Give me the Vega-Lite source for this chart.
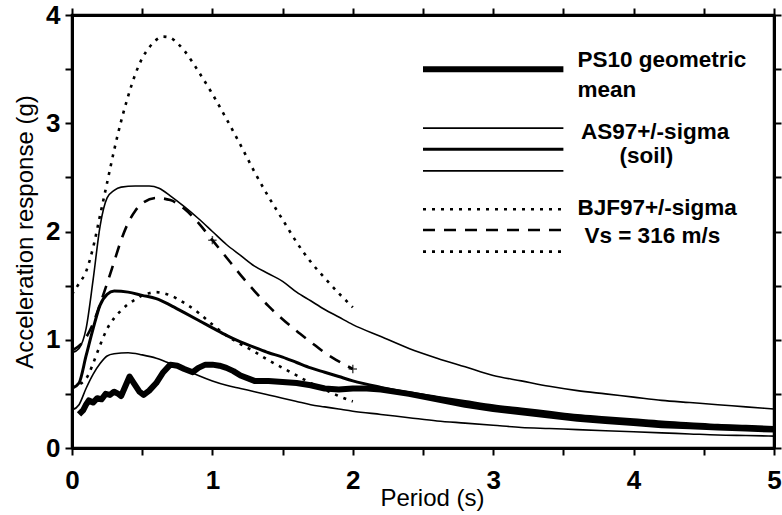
{
  "$schema": "https://vega.github.io/schema/vega-lite/v6.json",
  "width": 702,
  "height": 433,
  "autosize": {"type": "none"},
  "padding": {"left": 72, "top": 15, "right": 8, "bottom": 67},
  "background": "white",
  "config": {
    "view": {"stroke": "black", "strokeWidth": 2.5},
    "font": "Liberation Sans",
    "axis": {
      "grid": false, "domainColor": "black", "domainWidth": 3, "tickColor": "black", "tickWidth": 2, "tickSize": 7, "ticks": true,
      "labelColor": "black", "labelFont": "Liberation Sans", "labelFontWeight": "bold", "labelFontSize": 26,
      "labelFlush": false, "labelOverlap": false,
      "titleColor": "black", "titleFont": "Liberation Sans", "titleFontWeight": "normal", "titleFontSize": 24
    }
  },
  "datasets": {
    "curves": [
      {"s":"PS10","g":"c","T":0.05,"Sa":0.31},{"s":"PS10","g":"c","T":0.08,"Sa":0.35},{"s":"PS10","g":"c","T":0.1,"Sa":0.40},{"s":"PS10","g":"c","T":0.12,"Sa":0.44},{"s":"PS10","g":"c","T":0.15,"Sa":0.42},{"s":"PS10","g":"c","T":0.18,"Sa":0.46},{"s":"PS10","g":"c","T":0.21,"Sa":0.45},{"s":"PS10","g":"c","T":0.24,"Sa":0.50},{"s":"PS10","g":"c","T":0.27,"Sa":0.49},{"s":"PS10","g":"c","T":0.3,"Sa":0.52},{"s":"PS10","g":"c","T":0.33,"Sa":0.50},{"s":"PS10","g":"c","T":0.35,"Sa":0.48},{"s":"PS10","g":"c","T":0.38,"Sa":0.57},{"s":"PS10","g":"c","T":0.41,"Sa":0.66},{"s":"PS10","g":"c","T":0.44,"Sa":0.60},{"s":"PS10","g":"c","T":0.48,"Sa":0.52},{"s":"PS10","g":"c","T":0.51,"Sa":0.49},{"s":"PS10","g":"c","T":0.55,"Sa":0.53},{"s":"PS10","g":"c","T":0.6,"Sa":0.60},{"s":"PS10","g":"c","T":0.65,"Sa":0.70},{"s":"PS10","g":"c","T":0.7,"Sa":0.77},{"s":"PS10","g":"c","T":0.75,"Sa":0.76},{"s":"PS10","g":"c","T":0.8,"Sa":0.73},{"s":"PS10","g":"c","T":0.86,"Sa":0.70},{"s":"PS10","g":"c","T":0.9,"Sa":0.74},{"s":"PS10","g":"c","T":0.95,"Sa":0.77},{"s":"PS10","g":"c","T":1.0,"Sa":0.77},{"s":"PS10","g":"c","T":1.05,"Sa":0.76},{"s":"PS10","g":"c","T":1.1,"Sa":0.74},{"s":"PS10","g":"c","T":1.15,"Sa":0.71},{"s":"PS10","g":"c","T":1.2,"Sa":0.67},{"s":"PS10","g":"c","T":1.3,"Sa":0.62},{"s":"PS10","g":"c","T":1.4,"Sa":0.62},{"s":"PS10","g":"c","T":1.5,"Sa":0.61},{"s":"PS10","g":"c","T":1.6,"Sa":0.60},{"s":"PS10","g":"c","T":1.7,"Sa":0.58},{"s":"PS10","g":"c","T":1.8,"Sa":0.55},{"s":"PS10","g":"c","T":1.9,"Sa":0.54},{"s":"PS10","g":"c","T":2.0,"Sa":0.55},{"s":"PS10","g":"c","T":2.1,"Sa":0.55},{"s":"PS10","g":"c","T":2.2,"Sa":0.54},{"s":"PS10","g":"c","T":2.4,"Sa":0.50},{"s":"PS10","g":"c","T":2.6,"Sa":0.45},{"s":"PS10","g":"c","T":2.8,"Sa":0.40},{"s":"PS10","g":"c","T":3.0,"Sa":0.36},{"s":"PS10","g":"c","T":3.2,"Sa":0.33},{"s":"PS10","g":"c","T":3.4,"Sa":0.30},{"s":"PS10","g":"c","T":3.6,"Sa":0.27},{"s":"PS10","g":"c","T":3.8,"Sa":0.25},{"s":"PS10","g":"c","T":4.0,"Sa":0.23},{"s":"PS10","g":"c","T":4.2,"Sa":0.21},{"s":"PS10","g":"c","T":4.4,"Sa":0.20},{"s":"PS10","g":"c","T":4.6,"Sa":0.19},{"s":"PS10","g":"c","T":4.8,"Sa":0.18},{"s":"PS10","g":"c","T":5.0,"Sa":0.17},
      {"s":"PS10","g":"l","T":2.5,"Sa":3.5},{"s":"PS10","g":"l","T":3.5,"Sa":3.5},

      {"s":"AS97+","g":"c","T":0,"Sa":0.88},{"s":"AS97+","g":"c","T":0.05,"Sa":0.92},{"s":"AS97+","g":"c","T":0.1,"Sa":1.1},{"s":"AS97+","g":"c","T":0.15,"Sa":1.55},{"s":"AS97+","g":"c","T":0.2,"Sa":2.05},{"s":"AS97+","g":"c","T":0.25,"Sa":2.31},{"s":"AS97+","g":"c","T":0.3,"Sa":2.38},{"s":"AS97+","g":"c","T":0.35,"Sa":2.41},{"s":"AS97+","g":"c","T":0.45,"Sa":2.42},{"s":"AS97+","g":"c","T":0.55,"Sa":2.42},{"s":"AS97+","g":"c","T":0.62,"Sa":2.40},{"s":"AS97+","g":"c","T":0.7,"Sa":2.33},{"s":"AS97+","g":"c","T":0.8,"Sa":2.23},{"s":"AS97+","g":"c","T":0.9,"Sa":2.12},{"s":"AS97+","g":"c","T":1.0,"Sa":2.0},{"s":"AS97+","g":"c","T":1.1,"Sa":1.88},{"s":"AS97+","g":"c","T":1.2,"Sa":1.78},{"s":"AS97+","g":"c","T":1.3,"Sa":1.68},{"s":"AS97+","g":"c","T":1.4,"Sa":1.61},{"s":"AS97+","g":"c","T":1.5,"Sa":1.54},{"s":"AS97+","g":"c","T":1.6,"Sa":1.44},{"s":"AS97+","g":"c","T":1.7,"Sa":1.36},{"s":"AS97+","g":"c","T":1.8,"Sa":1.28},{"s":"AS97+","g":"c","T":1.9,"Sa":1.21},{"s":"AS97+","g":"c","T":2.0,"Sa":1.14},{"s":"AS97+","g":"c","T":2.2,"Sa":1.03},{"s":"AS97+","g":"c","T":2.4,"Sa":0.92},{"s":"AS97+","g":"c","T":2.6,"Sa":0.83},{"s":"AS97+","g":"c","T":2.8,"Sa":0.75},{"s":"AS97+","g":"c","T":3.0,"Sa":0.67},{"s":"AS97+","g":"c","T":3.2,"Sa":0.62},{"s":"AS97+","g":"c","T":3.4,"Sa":0.57},{"s":"AS97+","g":"c","T":3.6,"Sa":0.53},{"s":"AS97+","g":"c","T":3.8,"Sa":0.50},{"s":"AS97+","g":"c","T":4.0,"Sa":0.47},{"s":"AS97+","g":"c","T":4.2,"Sa":0.44},{"s":"AS97+","g":"c","T":4.4,"Sa":0.42},{"s":"AS97+","g":"c","T":4.6,"Sa":0.40},{"s":"AS97+","g":"c","T":4.8,"Sa":0.38},{"s":"AS97+","g":"c","T":5.0,"Sa":0.36},
      {"s":"AS97+","g":"l","T":2.5,"Sa":2.955},{"s":"AS97+","g":"l","T":3.5,"Sa":2.955},

      {"s":"AS97","g":"c","T":0,"Sa":0.55},{"s":"AS97","g":"c","T":0.05,"Sa":0.60},{"s":"AS97","g":"c","T":0.1,"Sa":0.85},{"s":"AS97","g":"c","T":0.15,"Sa":1.1},{"s":"AS97","g":"c","T":0.2,"Sa":1.32},{"s":"AS97","g":"c","T":0.25,"Sa":1.42},{"s":"AS97","g":"c","T":0.3,"Sa":1.45},{"s":"AS97","g":"c","T":0.4,"Sa":1.44},{"s":"AS97","g":"c","T":0.5,"Sa":1.41},{"s":"AS97","g":"c","T":0.6,"Sa":1.38},{"s":"AS97","g":"c","T":0.7,"Sa":1.32},{"s":"AS97","g":"c","T":0.8,"Sa":1.25},{"s":"AS97","g":"c","T":0.9,"Sa":1.18},{"s":"AS97","g":"c","T":1.0,"Sa":1.11},{"s":"AS97","g":"c","T":1.1,"Sa":1.04},{"s":"AS97","g":"c","T":1.2,"Sa":0.98},{"s":"AS97","g":"c","T":1.3,"Sa":0.93},{"s":"AS97","g":"c","T":1.4,"Sa":0.88},{"s":"AS97","g":"c","T":1.5,"Sa":0.84},{"s":"AS97","g":"c","T":1.6,"Sa":0.79},{"s":"AS97","g":"c","T":1.7,"Sa":0.74},{"s":"AS97","g":"c","T":1.8,"Sa":0.70},{"s":"AS97","g":"c","T":1.9,"Sa":0.66},{"s":"AS97","g":"c","T":2.0,"Sa":0.62},{"s":"AS97","g":"c","T":2.2,"Sa":0.56},{"s":"AS97","g":"c","T":2.4,"Sa":0.51},{"s":"AS97","g":"c","T":2.6,"Sa":0.47},{"s":"AS97","g":"c","T":2.8,"Sa":0.43},{"s":"AS97","g":"c","T":3.0,"Sa":0.39},{"s":"AS97","g":"c","T":3.2,"Sa":0.36},{"s":"AS97","g":"c","T":3.4,"Sa":0.33},{"s":"AS97","g":"c","T":3.6,"Sa":0.30},{"s":"AS97","g":"c","T":3.8,"Sa":0.28},{"s":"AS97","g":"c","T":4.0,"Sa":0.26},{"s":"AS97","g":"c","T":4.2,"Sa":0.24},{"s":"AS97","g":"c","T":4.4,"Sa":0.225},{"s":"AS97","g":"c","T":4.6,"Sa":0.21},{"s":"AS97","g":"c","T":4.8,"Sa":0.20},{"s":"AS97","g":"c","T":5.0,"Sa":0.19},
      {"s":"AS97","g":"l","T":2.5,"Sa":2.76},{"s":"AS97","g":"l","T":3.5,"Sa":2.76},

      {"s":"AS97-","g":"c","T":0,"Sa":0.35},{"s":"AS97-","g":"c","T":0.05,"Sa":0.40},{"s":"AS97-","g":"c","T":0.1,"Sa":0.55},{"s":"AS97-","g":"c","T":0.15,"Sa":0.68},{"s":"AS97-","g":"c","T":0.2,"Sa":0.78},{"s":"AS97-","g":"c","T":0.25,"Sa":0.85},{"s":"AS97-","g":"c","T":0.3,"Sa":0.87},{"s":"AS97-","g":"c","T":0.4,"Sa":0.88},{"s":"AS97-","g":"c","T":0.5,"Sa":0.86},{"s":"AS97-","g":"c","T":0.6,"Sa":0.83},{"s":"AS97-","g":"c","T":0.7,"Sa":0.78},{"s":"AS97-","g":"c","T":0.8,"Sa":0.73},{"s":"AS97-","g":"c","T":0.9,"Sa":0.67},{"s":"AS97-","g":"c","T":1.0,"Sa":0.62},{"s":"AS97-","g":"c","T":1.1,"Sa":0.58},{"s":"AS97-","g":"c","T":1.2,"Sa":0.55},{"s":"AS97-","g":"c","T":1.3,"Sa":0.52},{"s":"AS97-","g":"c","T":1.4,"Sa":0.49},{"s":"AS97-","g":"c","T":1.5,"Sa":0.46},{"s":"AS97-","g":"c","T":1.6,"Sa":0.43},{"s":"AS97-","g":"c","T":1.7,"Sa":0.40},{"s":"AS97-","g":"c","T":1.8,"Sa":0.38},{"s":"AS97-","g":"c","T":1.9,"Sa":0.36},{"s":"AS97-","g":"c","T":2.0,"Sa":0.34},{"s":"AS97-","g":"c","T":2.2,"Sa":0.31},{"s":"AS97-","g":"c","T":2.4,"Sa":0.28},{"s":"AS97-","g":"c","T":2.6,"Sa":0.25},{"s":"AS97-","g":"c","T":2.8,"Sa":0.23},{"s":"AS97-","g":"c","T":3.0,"Sa":0.21},{"s":"AS97-","g":"c","T":3.2,"Sa":0.19},{"s":"AS97-","g":"c","T":3.4,"Sa":0.18},{"s":"AS97-","g":"c","T":3.6,"Sa":0.17},{"s":"AS97-","g":"c","T":3.8,"Sa":0.16},{"s":"AS97-","g":"c","T":4.0,"Sa":0.15},{"s":"AS97-","g":"c","T":4.2,"Sa":0.14},{"s":"AS97-","g":"c","T":4.4,"Sa":0.13},{"s":"AS97-","g":"c","T":4.6,"Sa":0.12},{"s":"AS97-","g":"c","T":4.8,"Sa":0.115},{"s":"AS97-","g":"c","T":5.0,"Sa":0.11},
      {"s":"AS97-","g":"l","T":2.5,"Sa":2.56},{"s":"AS97-","g":"l","T":3.5,"Sa":2.56},

      {"s":"BJF97+","g":"c","T":0,"Sa":1.42},{"s":"BJF97+","g":"c","T":0.05,"Sa":1.52},{"s":"BJF97+","g":"c","T":0.1,"Sa":1.63},{"s":"BJF97+","g":"c","T":0.15,"Sa":1.85},{"s":"BJF97+","g":"c","T":0.2,"Sa":2.15},{"s":"BJF97+","g":"c","T":0.25,"Sa":2.45},{"s":"BJF97+","g":"c","T":0.3,"Sa":2.75},{"s":"BJF97+","g":"c","T":0.35,"Sa":3.02},{"s":"BJF97+","g":"c","T":0.4,"Sa":3.25},{"s":"BJF97+","g":"c","T":0.45,"Sa":3.45},{"s":"BJF97+","g":"c","T":0.5,"Sa":3.6},{"s":"BJF97+","g":"c","T":0.55,"Sa":3.7},{"s":"BJF97+","g":"c","T":0.6,"Sa":3.77},{"s":"BJF97+","g":"c","T":0.65,"Sa":3.8},{"s":"BJF97+","g":"c","T":0.7,"Sa":3.79},{"s":"BJF97+","g":"c","T":0.75,"Sa":3.74},{"s":"BJF97+","g":"c","T":0.8,"Sa":3.67},{"s":"BJF97+","g":"c","T":0.9,"Sa":3.48},{"s":"BJF97+","g":"c","T":1.0,"Sa":3.27},{"s":"BJF97+","g":"c","T":1.1,"Sa":3.04},{"s":"BJF97+","g":"c","T":1.2,"Sa":2.8},{"s":"BJF97+","g":"c","T":1.3,"Sa":2.55},{"s":"BJF97+","g":"c","T":1.4,"Sa":2.32},{"s":"BJF97+","g":"c","T":1.5,"Sa":2.11},{"s":"BJF97+","g":"c","T":1.6,"Sa":1.9},{"s":"BJF97+","g":"c","T":1.7,"Sa":1.72},{"s":"BJF97+","g":"c","T":1.8,"Sa":1.57},{"s":"BJF97+","g":"c","T":1.9,"Sa":1.43},{"s":"BJF97+","g":"c","T":2.0,"Sa":1.30},
      {"s":"BJF97+","g":"l","T":2.5,"Sa":2.205},{"s":"BJF97+","g":"l","T":3.5,"Sa":2.205},

      {"s":"BJF97","g":"c","T":0,"Sa":0.9},{"s":"BJF97","g":"c","T":0.1,"Sa":1.02},{"s":"BJF97","g":"c","T":0.15,"Sa":1.15},{"s":"BJF97","g":"c","T":0.2,"Sa":1.33},{"s":"BJF97","g":"c","T":0.25,"Sa":1.52},{"s":"BJF97","g":"c","T":0.3,"Sa":1.72},{"s":"BJF97","g":"c","T":0.35,"Sa":1.92},{"s":"BJF97","g":"c","T":0.4,"Sa":2.08},{"s":"BJF97","g":"c","T":0.45,"Sa":2.19},{"s":"BJF97","g":"c","T":0.5,"Sa":2.26},{"s":"BJF97","g":"c","T":0.6,"Sa":2.31},{"s":"BJF97","g":"c","T":0.7,"Sa":2.29},{"s":"BJF97","g":"c","T":0.8,"Sa":2.21},{"s":"BJF97","g":"c","T":0.9,"Sa":2.08},{"s":"BJF97","g":"c","T":1.0,"Sa":1.92},{"s":"BJF97","g":"c","T":1.1,"Sa":1.76},{"s":"BJF97","g":"c","T":1.2,"Sa":1.60},{"s":"BJF97","g":"c","T":1.3,"Sa":1.45},{"s":"BJF97","g":"c","T":1.4,"Sa":1.31},{"s":"BJF97","g":"c","T":1.5,"Sa":1.19},{"s":"BJF97","g":"c","T":1.6,"Sa":1.08},{"s":"BJF97","g":"c","T":1.7,"Sa":0.98},{"s":"BJF97","g":"c","T":1.8,"Sa":0.88},{"s":"BJF97","g":"c","T":1.9,"Sa":0.80},{"s":"BJF97","g":"c","T":2.0,"Sa":0.73},
      {"s":"BJF97","g":"l","T":2.5,"Sa":2.014},{"s":"BJF97","g":"l","T":3.5,"Sa":2.014},

      {"s":"BJF97-","g":"c","T":0,"Sa":0.56},{"s":"BJF97-","g":"c","T":0.1,"Sa":0.64},{"s":"BJF97-","g":"c","T":0.15,"Sa":0.78},{"s":"BJF97-","g":"c","T":0.2,"Sa":0.95},{"s":"BJF97-","g":"c","T":0.25,"Sa":1.1},{"s":"BJF97-","g":"c","T":0.3,"Sa":1.2},{"s":"BJF97-","g":"c","T":0.35,"Sa":1.27},{"s":"BJF97-","g":"c","T":0.4,"Sa":1.33},{"s":"BJF97-","g":"c","T":0.45,"Sa":1.37},{"s":"BJF97-","g":"c","T":0.5,"Sa":1.41},{"s":"BJF97-","g":"c","T":0.55,"Sa":1.43},{"s":"BJF97-","g":"c","T":0.6,"Sa":1.44},{"s":"BJF97-","g":"c","T":0.65,"Sa":1.43},{"s":"BJF97-","g":"c","T":0.7,"Sa":1.41},{"s":"BJF97-","g":"c","T":0.8,"Sa":1.34},{"s":"BJF97-","g":"c","T":0.9,"Sa":1.25},{"s":"BJF97-","g":"c","T":1.0,"Sa":1.14},{"s":"BJF97-","g":"c","T":1.1,"Sa":1.04},{"s":"BJF97-","g":"c","T":1.2,"Sa":0.96},{"s":"BJF97-","g":"c","T":1.3,"Sa":0.89},{"s":"BJF97-","g":"c","T":1.4,"Sa":0.81},{"s":"BJF97-","g":"c","T":1.5,"Sa":0.74},{"s":"BJF97-","g":"c","T":1.6,"Sa":0.67},{"s":"BJF97-","g":"c","T":1.7,"Sa":0.60},{"s":"BJF97-","g":"c","T":1.8,"Sa":0.54},{"s":"BJF97-","g":"c","T":1.9,"Sa":0.48},{"s":"BJF97-","g":"c","T":2.0,"Sa":0.43},
      {"s":"BJF97-","g":"l","T":2.5,"Sa":1.814},{"s":"BJF97-","g":"l","T":3.5,"Sa":1.814}
    ],
    "marks": [
      {"T":1.0,"Sa":1.92},{"T":2.0,"Sa":0.73}
    ],
    "labels": [
      {"T":3.6,"Sa":3.52,"text":"PS10 geometric"},
      {"T":3.6,"Sa":3.245,"text":"mean"},
      {"T":3.625,"Sa":2.85,"text":"AS97+/-sigma"},
      {"T":3.9,"Sa":2.63,"text":"(soil)"},
      {"T":3.6,"Sa":2.152,"text":"BJF97+/-sigma"},
      {"T":3.65,"Sa":1.897,"text":"Vs = 316 m/s"}
    ]
  },
  "resolve": {"axis": {"x": "independent", "y": "independent"}},
  "layer": [
    {
      "data": {"name": "curves"},
      "transform": [{"filter": "datum.s == 'AS97+'"}],
      "mark": {"type": "line", "color": "black", "strokeWidth": 1.6, "interpolate": "monotone"},
      "encoding": {
        "x": {"field": "T", "type": "quantitative", "scale": {"domain": [0, 5], "nice": false},
          "axis": {"orient": "bottom", "values": [0,0.5,1,1.5,2,2.5,3,3.5,4,4.5,5], "labelExpr": "datum.value % 1 == 0 ? format(datum.value, 'd') : ''", "labelPadding": 12, "title": "Period (s)", "titleX": 360, "titleY": 57, "titleBaseline": "alphabetic",
            "encode": {"ticks": {"update": {"y": {"value": 0}, "y2": {"value": -7}}}}}},
        "y": {"field": "Sa", "type": "quantitative", "scale": {"domain": [0, 4], "nice": false},
          "axis": {"orient": "left", "values": [0,0.5,1,1.5,2,2.5,3,3.5,4], "labelExpr": "datum.value % 1 == 0 ? format(datum.value, 'd') : ''", "labelPadding": 5, "title": "Acceleration response (g)", "titlePadding": 8,
            "encode": {"ticks": {"update": {"x": {"value": 0}, "x2": {"value": 7}}}}}},
        "detail": {"field": "g"}
      }
    },
    {
      "data": {"name": "curves"},
      "transform": [{"filter": "datum.s == 'AS97-'"}],
      "mark": {"type": "line", "color": "black", "strokeWidth": 1.6, "interpolate": "monotone"},
      "encoding": {
        "x": {"field": "T", "type": "quantitative", "axis": null},
        "y": {"field": "Sa", "type": "quantitative", "axis": null},
        "detail": {"field": "g"}
      }
    },
    {
      "data": {"name": "curves"},
      "transform": [{"filter": "datum.s == 'AS97'"}],
      "mark": {"type": "line", "color": "black", "strokeWidth": 3, "interpolate": "monotone"},
      "encoding": {
        "x": {"field": "T", "type": "quantitative", "axis": null},
        "y": {"field": "Sa", "type": "quantitative", "axis": null},
        "detail": {"field": "g"}
      }
    },
    {
      "data": {"name": "curves"},
      "transform": [{"filter": "datum.s == 'BJF97+' || datum.s == 'BJF97-'"}],
      "mark": {"type": "line", "color": "black", "strokeWidth": 2.6, "strokeDash": [3, 6], "interpolate": "monotone"},
      "encoding": {
        "x": {"field": "T", "type": "quantitative", "axis": null},
        "y": {"field": "Sa", "type": "quantitative", "axis": null},
        "detail": [{"field": "s"}, {"field": "g"}]
      }
    },
    {
      "data": {"name": "curves"},
      "transform": [{"filter": "datum.s == 'BJF97'"}],
      "mark": {"type": "line", "color": "black", "strokeWidth": 2.6, "strokeDash": [12, 9], "interpolate": "monotone"},
      "encoding": {
        "x": {"field": "T", "type": "quantitative", "axis": null},
        "y": {"field": "Sa", "type": "quantitative", "axis": null},
        "detail": {"field": "g"}
      }
    },
    {
      "data": {"name": "curves"},
      "transform": [{"filter": "datum.s == 'PS10'"}],
      "mark": {"type": "line", "color": "black", "strokeWidth": 6, "strokeJoin": "round"},
      "encoding": {
        "x": {"field": "T", "type": "quantitative", "axis": null},
        "y": {"field": "Sa", "type": "quantitative", "axis": null},
        "detail": {"field": "g"}
      }
    },
    {
      "data": {"name": "marks"},
      "mark": {"type": "point", "shape": "M-1,0L1,0M0,-1L0,1", "filled": false, "color": "black", "strokeWidth": 1.5, "size": 70},
      "encoding": {
        "x": {"field": "T", "type": "quantitative", "axis": null},
        "y": {"field": "Sa", "type": "quantitative", "axis": null}
      }
    },
    {
      "data": {"name": "labels"},
      "mark": {"type": "text", "align": "left", "baseline": "alphabetic", "font": "Liberation Sans", "fontWeight": "bold", "fontSize": 22.5, "color": "black"},
      "encoding": {
        "x": {"field": "T", "type": "quantitative",
          "axis": {"orient": "top", "values": [0,0.5,1,1.5,2,2.5,3,3.5,4,4.5,5], "labels": false, "title": null,
            "encode": {"ticks": {"update": {"y": {"value": 0}, "y2": {"value": 7}}}}}},
        "y": {"field": "Sa", "type": "quantitative",
          "axis": {"orient": "right", "values": [0,0.5,1,1.5,2,2.5,3,3.5,4], "labels": false, "title": null,
            "encode": {"ticks": {"update": {"x": {"value": 0}, "x2": {"value": -7}}}}}},
        "text": {"field": "text"}
      }
    }
  ]
}
